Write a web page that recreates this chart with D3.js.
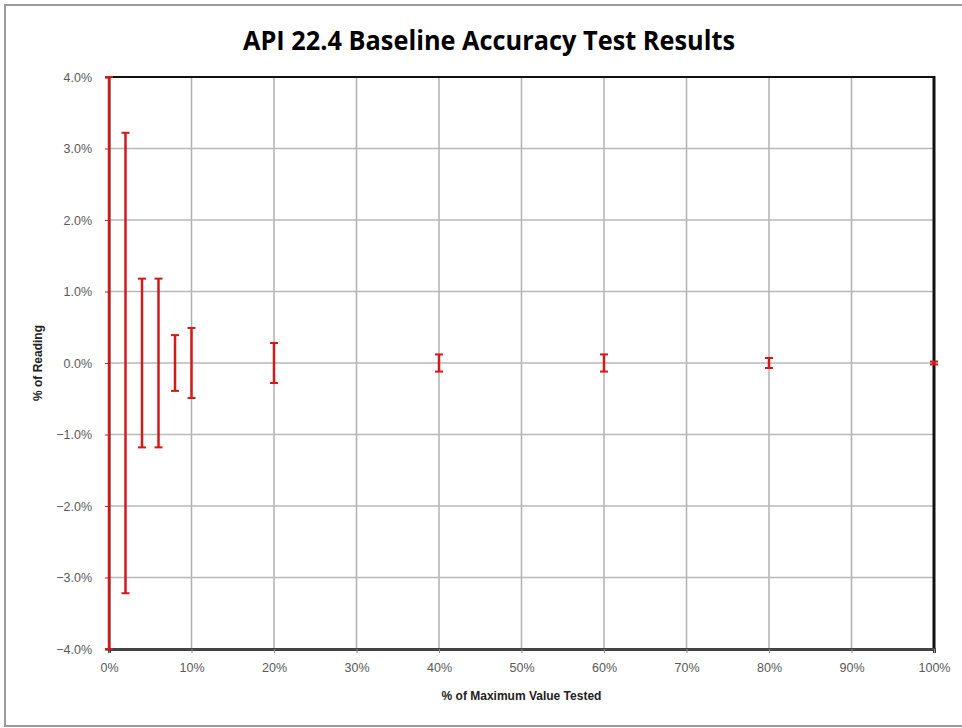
<!DOCTYPE html>
<html>
<head>
<meta charset="utf-8">
<script src="https://cdn.jsdelivr.net/npm/d3@7"></script>
<style>
  body { margin: 0; background: #fff; }
  svg { display: block; }
</style>
</head>
<body>
<div id="chart"></div>
<script>
// % of maximum value tested, and the +/- spread of each test point (% of reading)
var testPoints = [0, 2, 4, 6, 8, 10, 20, 40, 60, 80, 100],
    centres    = [0, 0, 0, 0, 0, 0, 0, 0, 0, 0, 0],
    spread     = [4.0, 3.22, 1.18, 1.18, 0.39, 0.49, 0.28, 0.12, 0.12, 0.07, 0.02],
    xTicks     = [0, 10, 20, 30, 40, 50, 60, 70, 80, 90, 100],
    yTicks     = [-4, -3, -2, -1, 0, 1, 2, 3, 4];

var W = 962, H = 728,
    plotL = 109, plotR = 934, plotT = 77, plotB = 649,
    red = '#d11a1a';

var svg = d3.select('#chart').append('svg')
    .attr('width', W).attr('height', H);

// outer chart frame
svg.append('rect')
    .attr('x', 5).attr('y', 5).attr('width', W + 10).attr('height', 721)
    .attr('fill', '#fff').attr('stroke', '#9a9a9a').attr('stroke-width', 2);

var x = d3.scaleLinear().domain([0, 100]).range([plotL, plotR]),
    y = d3.scaleLinear().domain([-4, 4]).range([plotB, plotT]);

// grid
svg.append('g').selectAll('line')
    .data(xTicks.slice(1, -1))
    .enter().append('line')
    .attr('x1', function(d) { return x(d); }).attr('x2', function(d) { return x(d); })
    .attr('y1', plotT).attr('y2', plotB)
    .attr('stroke', '#b0b0b0').attr('stroke-width', 1.5);
svg.append('g').selectAll('line')
    .data(yTicks.slice(1, -1))
    .enter().append('line')
    .attr('x1', plotL).attr('x2', plotR)
    .attr('y1', function(d) { return y(d); }).attr('y2', function(d) { return y(d); })
    .attr('stroke', '#b8b8b8').attr('stroke-width', 1.5);

// plot area border
svg.append('line').attr('x1', plotL).attr('x2', plotR).attr('y1', plotT).attr('y2', plotT)
    .attr('stroke', '#111').attr('stroke-width', 2);
svg.append('line').attr('x1', plotR).attr('x2', plotR).attr('y1', plotT - 1).attr('y2', plotB)
    .attr('stroke', '#111').attr('stroke-width', 3);

// axes
var xAxis = d3.axisBottom(x).tickValues(xTicks).tickSize(4)
    .tickFormat(function(d) { return d + '%'; });
var yAxis = d3.axisLeft(y).tickValues(yTicks).tickSize(4)
    .tickFormat(function(d) { return d3.format('.1f')(d) + '%'; });

var gx = svg.append('g').attr('transform', 'translate(0,' + plotB + ')').call(xAxis);
gx.select('.domain').attr('stroke', '#444').attr('stroke-width', 3);
gx.selectAll('.tick line').attr('stroke', '#888');
gx.selectAll('.tick text')
    .attr('dy', '1.25em')
    .attr('fill', '#595959')
    .style('font-family', 'Liberation Sans, Arial, sans-serif')
    .style('font-size', '12.5px');

var gy = svg.append('g').attr('transform', 'translate(' + plotL + ',0)').call(yAxis);
gy.select('.domain').attr('stroke', '#222').attr('stroke-width', 2);
gy.selectAll('.tick line').attr('stroke', red);
gy.selectAll('.tick text')
    .attr('x', -17)
    .attr('fill', '#595959')
    .style('font-family', 'Liberation Sans, Arial, sans-serif')
    .style('font-size', '12.5px');

// error bars
var bars = svg.append('g').selectAll('g')
    .data(testPoints.map(function(p, i) {
        return { x: p, lo: centres[i] - spread[i], hi: centres[i] + spread[i] };
    }))
    .enter().append('g')
    .attr('stroke', red).attr('fill', 'none');
bars.append('line')
    .attr('x1', function(d) { return x(d.x); }).attr('x2', function(d) { return x(d.x); })
    .attr('y1', function(d) { return y(d.hi); }).attr('y2', function(d) { return y(d.lo); })
    .attr('stroke-width', 2.5);
bars.selectAll('line.cap')
    .data(function(d) { return [d.hi, d.lo].map(function(v) { return { x: d.x, v: v }; }); })
    .enter().append('line')
    .attr('class', 'cap')
    .attr('x1', function(d) { return x(d.x) - 4; }).attr('x2', function(d) { return x(d.x) + 4; })
    .attr('y1', function(d) { return y(d.v); }).attr('y2', function(d) { return y(d.v); })
    .attr('stroke-width', 2);

// titles
svg.append('text')
    .attr('x', 489).attr('y', 50)
    .attr('text-anchor', 'middle')
    .attr('textLength', 492).attr('lengthAdjust', 'spacingAndGlyphs')
    .style('font-family', 'Open Sans, sans-serif')
    .style('font-weight', 'bold')
    .style('font-size', '26px')
    .attr('fill', '#000')
    .text('API 22.4 Baseline Accuracy Test Results');

svg.append('text')
    .attr('x', (plotL + plotR) / 2).attr('y', 700)
    .attr('text-anchor', 'middle')
    .style('font-family', 'Liberation Sans, Arial, sans-serif')
    .style('font-weight', 'bold')
    .style('font-size', '12px')
    .attr('fill', '#222')
    .text('% of Maximum Value Tested');

svg.append('text')
    .attr('transform', 'translate(42,' + y(0) + ') rotate(-90)')
    .attr('text-anchor', 'middle')
    .style('font-family', 'Liberation Sans, Arial, sans-serif')
    .style('font-weight', 'bold')
    .style('font-size', '12px')
    .attr('fill', '#222')
    .text('% of Reading');
</script>
</body>
</html>
